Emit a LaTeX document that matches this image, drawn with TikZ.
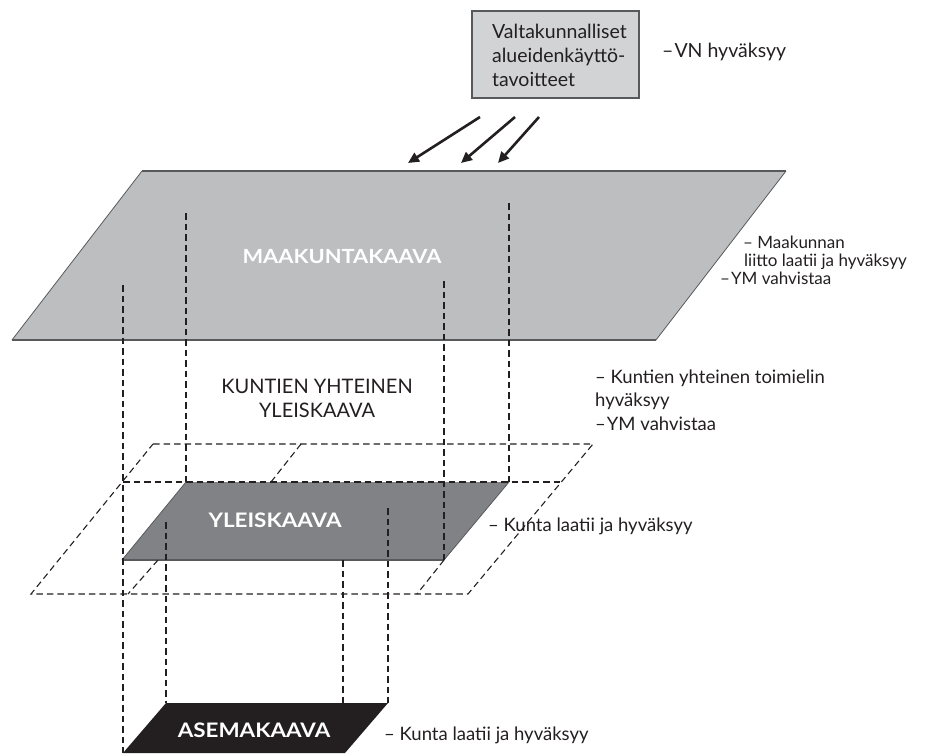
\documentclass[tikz,border=0pt]{standalone}
\usepackage{fontspec}
\setmainfont{Lato}
\newfontfamily\widebold[FakeStretch=1.12]{Lato Bold}
\usetikzlibrary{arrows.meta}
\definecolor{ink}{HTML}{231F20}
\definecolor{maakfill}{HTML}{BCBEC0}
\definecolor{yleisfill}{HTML}{808285}
\definecolor{boxfill}{HTML}{D1D3D4}
\definecolor{edgegray}{HTML}{58595B}
\begin{document}
\begin{tikzpicture}[x=1pt,y=-1pt,
  guide/.style={draw=ink, line width=1.1pt, dash pattern=on 6.5pt off 4pt},
  lbl/.style={anchor=base west, inner sep=0pt, text=ink, font=\fontsize{18.5}{22}\selectfont},
  lblsmall/.style={anchor=base west, inner sep=0pt, text=ink, font=\fontsize{17}{20}\selectfont},
  boxtxt/.style={anchor=base west, inner sep=0pt, text=ink, font=\fontsize{19.5}{23}\selectfont},
  planelbl/.style={anchor=base, inner sep=0pt, text=white, font=\widebold\fontsize{20}{24}\selectfont},
  midlbl/.style={anchor=base, inner sep=0pt, text=ink, font=\fontsize{20}{24}\selectfont},
  arr/.style={-{Triangle[length=11pt,width=10pt]}, line width=2.6pt, draw=ink},
  goalbox/.style={draw=edgegray, line width=1.3pt, fill=boxfill}
]
\useasboundingbox (0,0) rectangle (927,753);

% ---- corner coordinates ----
% Maakuntakaava
\coordinate (mTL) at (142,171); \coordinate (mTR) at (786,171);
\coordinate (mBR) at (656,340); \coordinate (mBL) at (12,340);
% outer dashed plane
\coordinate (oTL) at (153,444); \coordinate (oTR) at (593,444);
\coordinate (oBR) at (468,594); \coordinate (oBL) at (31,594);
\coordinate (hL) at (123,482);  \coordinate (hR) at (561,482);
% Yleiskaava
\coordinate (yTL) at (186,482); \coordinate (yTR) at (509,482);
\coordinate (yBR) at (444,560); \coordinate (yBL) at (122,560);
% Asemakaava
\coordinate (aTL) at (166,703); \coordinate (aTR) at (388,703);
\coordinate (aBR) at (345,753); \coordinate (aBL) at (123,753);

% ---- top box ----
\draw[goalbox] (472,11) rectangle (639,98);
\node[boxtxt] (g1) at (492,38) {Valtakunnalliset};
\node[boxtxt] (g2) at (492,62) {alueidenkäyttö-};
\node[boxtxt] (g3) at (492,86) {tavoitteet};
\node[boxtxt] (vn) at (662,57) {–\kern1pt VN hyväksyy};

% ---- arrows ----
\coordinate (s1) at (480,117); \coordinate (e1) at (408,163);
\coordinate (s2) at (515,117); \coordinate (e2) at (461,163);
\coordinate (s3) at (539,117); \coordinate (e3) at (498,163);
\draw[arr] (s1) -- (e1);
\draw[arr] (s2) -- (e2);
\draw[arr] (s3) -- (e3);

% ---- Maakuntakaava plane ----
\fill[maakfill] (mTL) -- (mTR) -- (mBR) -- (mBL) -- cycle;
\draw[edgegray, line width=0.8pt] (mTR) -- (mBR) (mBL) -- (mTL);
\draw[edgegray, line width=1.6pt] (mTL) -- (mTR) (mBL) -- (mBR);
\node[planelbl, font=\widebold\fontsize{19.5}{24}\selectfont] (maak) at (342,263) {MAAKUNTAKAAVA};

% ---- Yleiskaava plane ----
\fill[yleisfill] (yTL) -- (yTR) -- (yBR) -- (yBL) -- cycle;
\draw[edgegray, line width=0.8pt] (yTR) -- (yBR) (yBL) -- (yTL);
\draw[edgegray, line width=1.4pt] (yBL) -- (yBR);
\node[planelbl] (yleis) at (275,527) {YLEISKAAVA};

% ---- Asemakaava plane ----
\fill[ink] (aTL) -- (aTR) -- (aBR) -- (aBL) -- cycle;
\node[planelbl] (asema) at (254,737) {ASEMAKAAVA};

% ---- dashed common plan outline ----
\draw[guide] (oTL) -- (oTR) -- (oBR) -- (oBL) -- cycle;
\draw[guide] (hL) -- (hR);
\coordinate (u1) at (301,444); \coordinate (u2) at (271,482);
\draw[guide] (u1) -- (u2);
\coordinate (l1) at (158,560); \coordinate (l2) at (128,594);
\draw[guide] (l1) -- (l2);
\coordinate (r2) at (417,594);
\draw[guide] (yBR) -- (r2);

% ---- dashed projection verticals ----
\coordinate (v1) at (186,213); \coordinate (v2) at (509,203);
\coordinate (v3) at (123,285); \coordinate (v4) at (444,281);
\coordinate (v5) at (166,522); \coordinate (v6) at (388,508);
\coordinate (v7) at (343,560); \coordinate (v7e) at (343,703);
\draw[guide] (v1) -- (yTL);
\draw[guide] (v2) -- (yTR);
\draw[guide] (v3) -- (aBL);
\draw[guide] (v4) -- (yBR);
\draw[guide] (v5) -- (aTL);
\draw[guide] (v6) -- (aTR);
\draw[guide] (v7) -- (v7e);

% ---- middle plan label ----
\node[midlbl] (kyk1) at (317,393) {KUNTIEN YHTEINEN};
\node[midlbl] (kyk2) at (317,417) {YLEISKAAVA};

% ---- right-hand labels ----
\node[lblsmall] (m1) at (743,248) {– Maakunnan};
\node[lblsmall] (m2) at (744,266) {liitto laatii ja hyväksyy};
\node[lblsmall] (m3) at (720,284) {–\kern1pt YM vahvistaa};

\node[lbl] (k1) at (595,383) {– Kuntien yhteinen toimielin};
\node[lbl] (k2) at (595,406) {hyväksyy};
\node[lbl] (k3) at (595,430) {–\kern1pt YM vahvistaa};

\node[lbl] (y1) at (488,531) {– Kunta laatii ja hyväksyy};
\node[lbl] (a1) at (384,740) {– Kunta laatii ja hyväksyy};
\end{tikzpicture}
\end{document}
